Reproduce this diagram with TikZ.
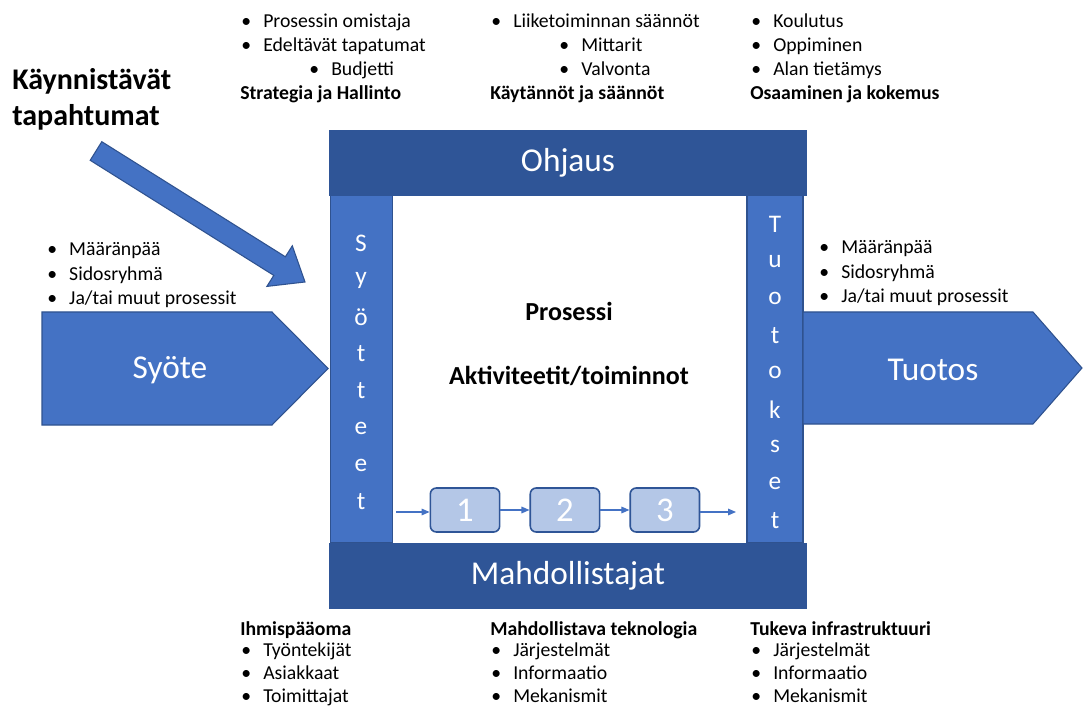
\documentclass[tikz,border=0pt]{standalone}
\usepackage{fontspec}
\setmainfont{Carlito}
\usetikzlibrary{arrows.meta, positioning}

\definecolor{bardark}{HTML}{2F5597}
\definecolor{colblue}{HTML}{4472C4}
\definecolor{edgeblue}{HTML}{2F528F}
\definecolor{steplight}{HTML}{B4C7E7}
\newcommand{\blt}{\makebox[16.5pt][l]{\textbullet}}

\begin{document}
\begin{tikzpicture}[x=0.75pt, y=-0.75pt, >={Triangle[length=6pt, width=5pt]},
  bar/.style={fill=bardark, draw=bardark, inner sep=0, text=white,
              font=\fontsize{25}{28}\selectfont,
              minimum width=357.75pt, minimum height=48.75pt},
  col/.style={fill=colblue, draw=edgeblue, line width=0.8pt, inner sep=0,
              minimum height=261pt},
  blk/.style={fill=colblue, draw=edgeblue, line width=0.8pt},
  blktxt/.style={text=white, font=\fontsize{25}{28}\selectfont},
  vlet/.style={text=white, inner sep=0, font=\fontsize{19}{22}\selectfont},
  itm/.style={anchor=base west, inner sep=0, font=\fontsize{14.8}{17}\selectfont},
  hd/.style={itm, font=\fontsize{14.8}{17}\selectfont\bfseries},
  stepbox/.style={draw=bardark, fill=steplight, line width=1.2pt, rounded corners=4.5pt,
                  minimum width=52pt, minimum height=33pt, inner sep=0, text=white,
                  font=\fontsize{26}{28}\selectfont},
  flow/.style={->, draw=colblue, line width=0.8pt}]
\useasboundingbox[fill=white] (0,0) rectangle (1083,706);

% columns and bars
\node[col, minimum width=46.5pt] (syt) at (361.5,369) {};
\node[col, minimum width=42pt]   (tuo) at (775,369) {};
\node[bar] (ohj) at (568,163)   {Ohjaus};
\node[bar] (mah) at (568,576) {Mahdollistajat};
\foreach \c [count=\i] in {S,y,ö,t,t,e,e,t}
  \node[vlet] (s\i) at (361,{243+37*(\i-1)}) {\c};
\foreach \c [count=\i] in {T,u,o,t,o,k,s,e,t}
  \node[vlet] (t\i) at (775,{224+37.1*(\i-1)}) {\c};

% input / output arrows
\filldraw[blk] (42,312) -- (272,312) -- (328,368.5) -- (272,425) -- (42,425) -- cycle;
\filldraw[blk] (803,312) -- (1033,312) -- (1082,368) -- (1033,424) -- (803,424) -- cycle;
\node[blktxt] (syote) at (170,370) {Syöte};
\node[blktxt] (tuotos) at (933,370) {Tuotos};

% triggering events
\filldraw[blk] (90.2,160.3) -- (101.8,141.7) -- (285.4,256.8) -- (292.3,245.8)
  -- (305,282) -- (266.9,286.4) -- (273.8,275.4) -- cycle;
\node[anchor=base west, inner sep=0, align=left, font=\fontsize{22.5}{27}\selectfont\bfseries]
  (kaynn) at (12,126) {Käynnistävät\\tapahtumat};

% process
\node[font=\fontsize{19.5}{22}\selectfont\bfseries] (pros) at (569,311) {Prosessi};
\node[font=\fontsize{19.5}{22}\selectfont\bfseries] (akt) at (569,376) {Aktiviteetit/toiminnot};
\node[stepbox] (p1) at (465,510) {1};
\node[stepbox, right=21.75pt of p1] (p2) {2};
\node[stepbox, right=21.75pt of p2] (p3) {3};
\coordinate (fin) at (396,512);
\coordinate (fout) at (736,512);
\draw[flow] (fin) -- (fin -| p1.west);
\foreach \a/\b in {p1/p2, p2/p3} \draw[flow] (\a) -- (\b);
\draw[flow] (p3.east |- fout) -- (fout);

% control
\node[itm] (c1) at (241,28) {\blt Prosessin omistaja};
\node[itm] (c2) at (241,52) {\blt Edeltävät tapatumat};
\node[itm] (c3) at (309,76) {\blt Budjetti};
\node[hd]  (c4) at (240,100) {Strategia ja Hallinto};
\node[itm] (r1) at (491,28) {\blt Liiketoiminnan säännöt};
\node[itm] (r2) at (559,52) {\blt Mittarit};
\node[itm] (r3) at (559,76) {\blt Valvonta};
\node[hd]  (r4) at (490,100) {Käytännöt ja säännöt};
\node[itm] (k1) at (751,28) {\blt Koulutus};
\node[itm] (k2) at (751,52) {\blt Oppiminen};
\node[itm] (k3) at (751,76) {\blt Alan tietämys};
\node[hd]  (k4) at (750,100) {Osaaminen ja kokemus};

% inputs / outputs
\foreach \t [count=\i] in {Määränpää, Sidosryhmä, Ja/tai muut prosessit} {
  \node[itm] (in\i)  at (47,{256+24.5*(\i-1)})  {\blt \t};
  \node[itm] (out\i) at (819,{254+24.5*(\i-1)}) {\blt \t};
}

% enablers
\node[hd]  (h0) at (240,635) {Ihmispääoma};
\node[hd]  (m0) at (490,635) {Mahdollistava teknologia};
\node[hd]  (i0) at (750,635) {Tukeva infrastruktuuri};
\foreach \t [count=\i] in {Työntekijät, Asiakkaat, Toimittajat}
  \node[itm] (h\i) at (241,{656.5+23*(\i-1)}) {\blt \t};
\foreach \t [count=\i] in {Järjestelmät, Informaatio, Mekanismit} {
  \node[itm] (m\i) at (491,{656.5+23*(\i-1)}) {\blt \t};
  \node[itm] (i\i) at (751,{656.5+23*(\i-1)}) {\blt \t};
}
\end{tikzpicture}
\end{document}
